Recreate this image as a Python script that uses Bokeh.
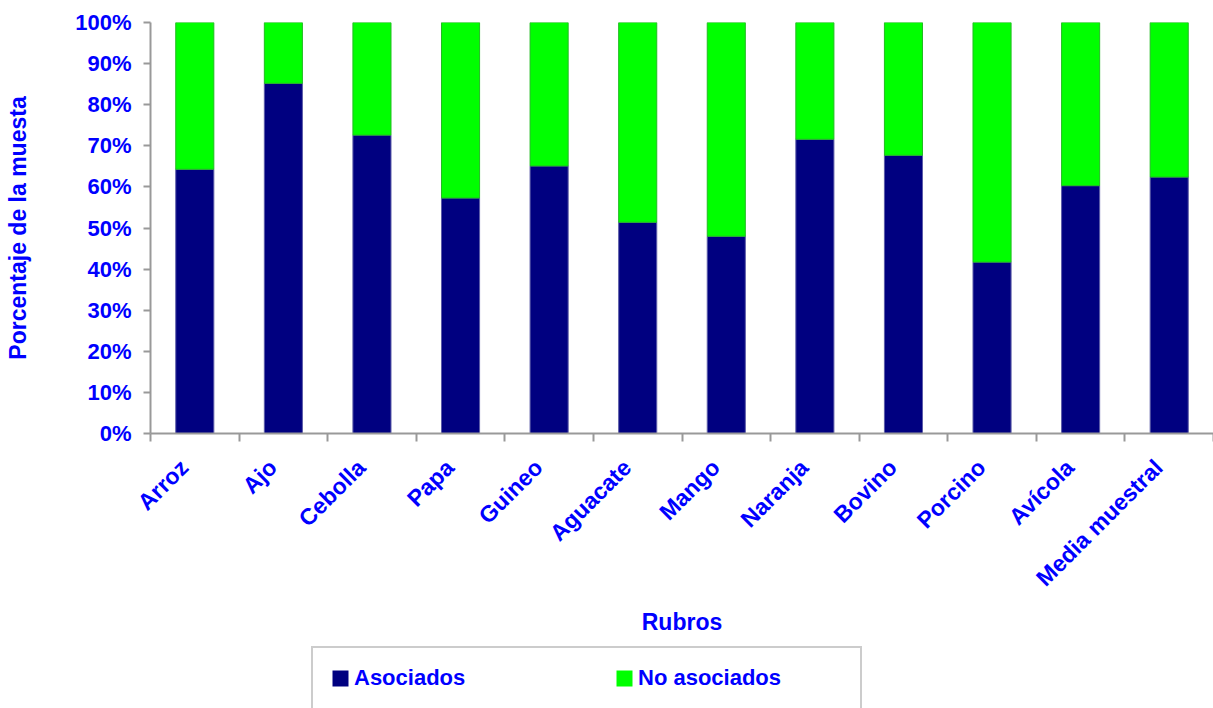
from math import pi
from bokeh.plotting import figure
from bokeh.layouts import column
from bokeh.models import (Range1d, LinearAxis, FixedTicker, PrintfTickFormatter,
                          CustomJSTickFormatter, Legend, LegendItem, ColumnDataSource)
from bokeh.embed import file_html
from bokeh.resources import INLINE

# ---------------- data ----------------
categorias = ["Arroz", "Ajo", "Cebolla", "Papa", "Guineo", "Aguacate", "Mango",
              "Naranja", "Bovino", "Porcino", "Avícola", "Media muestral"]
asociados = [64.3, 85.2, 72.6, 57.3, 65.1, 51.4, 48.0, 71.6, 67.7, 41.7, 60.3, 62.4]
no_asociados = [35.7, 14.8, 27.4, 42.7, 34.9, 48.6, 52.0, 28.4, 32.3, 58.3, 39.7, 37.6]
series = ["Asociados", "No asociados"]
y_ticks = [0, 10, 20, 30, 40, 50, 60, 70, 80, 90, 100]

# ---------------- style ----------------
FONT = "Liberation Sans"
BLUE = "#0000FF"
GRAY = "#999999"
NAVY = "#000080"
GREEN = "#00FF00"
LABEL_SHIFT = -0.12   # nudges rotated category labels so their ends sit under the bars

n = len(categorias)
centros = [i + 0.5 for i in range(n)]
bordes = list(range(n + 1))
label_pos = [c + LABEL_SHIFT for c in centros]

src = ColumnDataSource(dict(pos=centros, rubro=categorias,
                            asociados=asociados, no_asociados=no_asociados))

p = figure(x_range=Range1d(0, n), y_range=Range1d(0, 100),
           width=1213, height=644, output_backend="svg", toolbar_location=None,
           x_axis_location=None, y_axis_location=None,
           min_border_left=150, min_border_right=0, min_border_top=22, min_border_bottom=211,
           outline_line_color=None, background_fill_color="white", border_fill_color="white")
p.grid.visible = False

bars = p.vbar_stack(["asociados", "no_asociados"], x="pos", width=0.43, source=src,
                    fill_color=[NAVY, GREEN], line_color=["#5c5ca8", "#22bb22"], line_width=1)

# y axis
yaxis = LinearAxis(ticker=FixedTicker(ticks=y_ticks), formatter=PrintfTickFormatter(format="%d%%"),
                   axis_label="Porcentaje de la muesta",
                   axis_line_color=GRAY, axis_line_width=2,
                   major_tick_line_color=GRAY, major_tick_line_width=2,
                   major_tick_out=7, major_tick_in=0, minor_tick_out=0, minor_tick_in=0,
                   major_label_standoff=12,
                   major_label_text_font=FONT, major_label_text_font_style="bold",
                   major_label_text_font_size="22px", major_label_text_color=BLUE,
                   axis_label_text_font=FONT, axis_label_text_font_style="bold",
                   axis_label_text_font_size="23px", axis_label_text_color=BLUE,
                   axis_label_standoff=41)
p.add_layout(yaxis, "left")

# x axis: tick marks at category boundaries
xticks = LinearAxis(ticker=FixedTicker(ticks=bordes),
                    formatter=CustomJSTickFormatter(code="return ''"),
                    axis_line_color=GRAY, axis_line_width=2,
                    major_tick_line_color=GRAY, major_tick_line_width=2,
                    major_tick_out=8, major_tick_in=0, minor_tick_out=0, minor_tick_in=0,
                    major_label_text_font_size="0px", major_label_standoff=0)
p.add_layout(xticks, "below")

# x axis: category labels
xcat = LinearAxis(ticker=FixedTicker(ticks=label_pos),
                  major_label_overrides={c: name for c, name in zip(label_pos, categorias)},
                  axis_label="Rubros", major_label_orientation=pi / 4,
                  axis_line_color=None, major_tick_line_color=None,
                  major_tick_out=0, major_tick_in=0, minor_tick_out=0, minor_tick_in=0,
                  major_label_standoff=22,
                  major_label_text_font=FONT, major_label_text_font_style="bold",
                  major_label_text_font_size="23px", major_label_text_color=BLUE,
                  axis_label_text_font=FONT, axis_label_text_font_style="bold",
                  axis_label_text_font_size="23px", axis_label_text_color=BLUE,
                  axis_label_standoff=6)
p.add_layout(xcat, "below")

# ---------------- legend strip ----------------
pl = figure(x_range=Range1d(0, 1), y_range=Range1d(0, 1), width=1213, height=64,
            output_backend="svg", toolbar_location=None,
            x_axis_location=None, y_axis_location=None, min_border=0,
            outline_line_color=None, background_fill_color="white", border_fill_color="white")
pl.grid.visible = False
# zero-size swatch renderers: they only carry the colours for the legend glyphs
sw1 = pl.vbar(x=[0.5], top=[0], bottom=[0], width=0, fill_color=NAVY, line_color=None)
sw2 = pl.vbar(x=[0.5], top=[0], bottom=[0], width=0, fill_color=GREEN, line_color=None)

legend = Legend(items=[LegendItem(label=series[0], renderers=[sw1]),
                       LegendItem(label=series[1], renderers=[sw2])],
                orientation="horizontal", location=(161, -2),
                padding=17, spacing=55, margin=0,
                glyph_width=20, glyph_height=20, label_standoff=4,
                label_width=205, label_height=16,
                label_text_font=FONT, label_text_font_style="bold",
                label_text_font_size="22px", label_text_color=BLUE,
                border_line_color=GRAY, border_line_width=2,
                background_fill_color="white", background_fill_alpha=1)
pl.add_layout(legend, "center")

layout = column(p, pl, spacing=0)
open("out.html", "w").write(file_html(layout, INLINE))
